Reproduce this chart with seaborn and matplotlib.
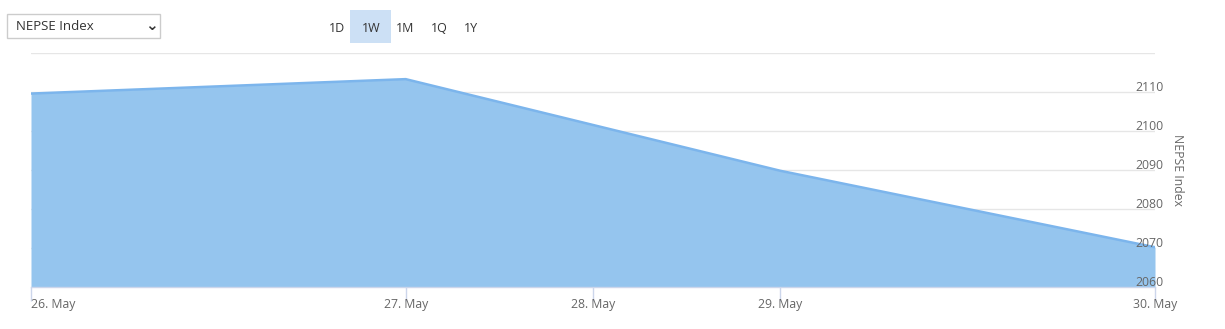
import numpy as np
import pandas as pd
import matplotlib
matplotlib.use("Agg")
import matplotlib.pyplot as plt
from matplotlib.patches import Rectangle
import seaborn as sns

# ---- data ----
trade_days = [26, 27, 29, 30]                     # trading days in May
index_values = [2109.6, 2113.3, 2089.8, 2070.2]   # NEPSE Index close
tick_days = [26, 27, 28, 29, 30]
tick_labels = ["26. May", "27. May", "28. May", "29. May", "30. May"]
y_ticks = [2060, 2070, 2080, 2090, 2100, 2110, 2120]
y_labels = ["2060", "2070", "2080", "2090", "2100", "2110", ""]
buttons = ["1D", "1W", "1M", "1Q", "1Y"]
selected_button = "1W"
dropdown_label = "NEPSE Index"
axis_title = "NEPSE Index"

sns.set_theme(style="white")
plt.rcParams["font.family"] = ["Open Sans", "DejaVu Sans"]

W, H = 1225, 329
fig = plt.figure(figsize=(W / 100, H / 100), dpi=100)
fig.patch.set_facecolor("white")

def fx(px):
    return px / W

def fy(py):
    return 1 - py / H

left, right, top, bottom = 31, 1155, 53, 287
ax = fig.add_axes([fx(left), fy(bottom), fx(right - left), fy(top) - fy(bottom)])

# ordinal x-axis (Highcharts-like): trading days equally spaced
ordinal = np.arange(len(trade_days))
df = pd.DataFrame({"pos": ordinal, "value": index_values})

fill_color = "#95c5ee"
line_color = "#7cb5ec"
ax.fill_between(df["pos"], df["value"], 2060, color=fill_color, lw=0, zorder=2)
sns.lineplot(data=df, x="pos", y="value", ax=ax, color=line_color, lw=1.8, zorder=3)

ax.set_xlim(ordinal[0], ordinal[-1])
ax.set_ylim(y_ticks[0], y_ticks[-1])

# grid
for yv in y_ticks[1:]:
    ax.axhline(yv, color="#e6e6e6", lw=1, zorder=1)

for s in ["top", "left", "right"]:
    ax.spines[s].set_visible(False)
ax.spines["bottom"].set_color("#ccd6eb")
ax.spines["bottom"].set_linewidth(1)
ax.spines["bottom"].set_zorder(4)

tick_pos = np.interp(tick_days, trade_days, ordinal)
ax.set_xticks(tick_pos)
ax.set_xticklabels([])
ax.tick_params(axis="x", which="both", bottom=True, length=10, width=1, color="#ccd6eb", pad=2)
ax.set_yticks([])
ax.set_xlabel("")
ax.set_ylabel("")

label_color = "#666666"
fs = 8.8
for i, (p, lab) in enumerate(zip(tick_pos, tick_labels)):
    ha = "center"
    if i == 0:
        ha = "left"
    ax.text(p, -0.045, lab, transform=ax.get_xaxis_transform(), ha=ha, va="top",
            fontsize=fs, color=label_color, clip_on=False)

for yv, lab in zip(y_ticks, y_labels):
    if lab:
        ax.annotate(lab, xy=(1, yv), xycoords=ax.get_yaxis_transform(),
                    xytext=(-14, -1.5), textcoords="offset points",
                    ha="left", va="bottom", fontsize=fs, color=label_color,
                    annotation_clip=False, zorder=5)

fig.text(fx(1178), fy(170), axis_title, rotation=270, ha="center", va="center",
         fontsize=fs, color=label_color)

# dropdown
fig.patches.append(Rectangle((fx(7), fy(38)), fx(153), fy(14) - fy(38),
                             transform=fig.transFigure, facecolor="white",
                             edgecolor="#cccccc", lw=1))
fig.text(fx(16), fy(27), dropdown_label, ha="left", va="center", fontsize=9.5, color="#333333")
fig.text(fx(151), fy(26), "⌄", ha="center", va="center", fontsize=11, color="#333333",
         family=["DejaVu Sans"], fontweight="bold")

# range buttons
btn_x = [337, 371, 405, 439, 471]
for bx, b in zip(btn_x, buttons):
    if b == selected_button:
        fig.patches.append(Rectangle((fx(350), fy(43)), fx(41), fy(10) - fy(43),
                                     transform=fig.transFigure, facecolor="#cce0f5",
                                     edgecolor="none"))
    fig.text(fx(bx), fy(28), b, ha="center", va="center", fontsize=9, color="#333333")

fig.savefig("out.png", dpi=100, facecolor="white")
